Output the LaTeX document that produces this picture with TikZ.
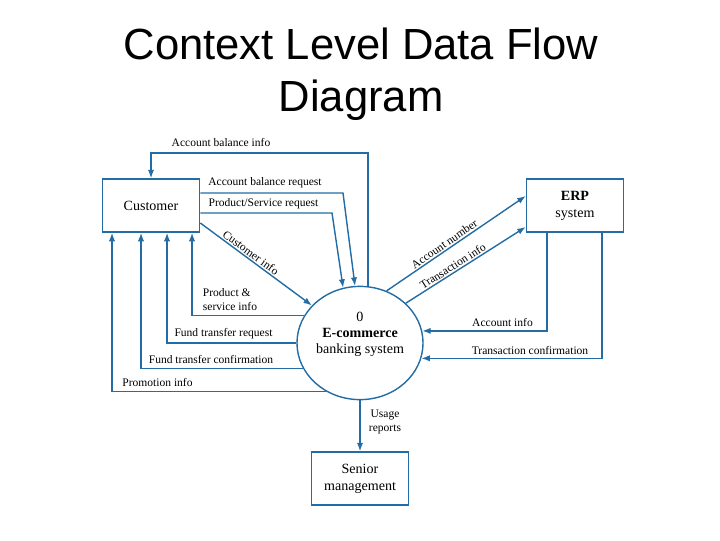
\documentclass[tikz,border=0pt]{standalone}
\usepackage{fontspec}
\setmainfont{Liberation Serif}
\newfontfamily\titlefont{Liberation Sans}
\usetikzlibrary{shapes.geometric,arrows.meta}
\definecolor{dfdblue}{RGB}{36,108,164}

\tikzset{
  entity/.style={draw=dfdblue, line width=1pt, minimum width=2.43cm, minimum height=1.33cm,
    inner sep=2pt, align=center, font=\fontsize{10}{12}\selectfont},
  process/.style={draw=dfdblue, line width=1pt, ellipse, minimum width=3.15cm, minimum height=2.83cm,
    inner sep=0pt, align=center, font=\fontsize{10}{11.5}\selectfont},
  flow/.style={draw=dfdblue, line width=1pt, -{Latex[length=6pt,width=4.5pt]}},
  lbl/.style={font=\fontsize{8.2}{10}\selectfont, inner sep=1pt, align=left},
  titletext/.style={font=\titlefont\fontsize{31}{37}\selectfont, align=center}
}

\begin{document}
\begin{tikzpicture}[x=0.025cm,y=-0.025cm]
\useasboundingbox (0,0) rectangle (720,540);
\node[titletext] (title) at (361,74) {Context Level Data Flow\\Diagram};

\node[entity] (cust) at (151,205.5) {Customer};
\node[entity] (erp) at (575,205.5) {\textbf{ERP}\\system};
\node[process] (sys) at (360,343) {0\\\textbf{E-commerce}\\banking system\\[3pt]\phantom{0}};
\node[entity] (mgmt) at (360,478.5) {Senior\\management};

\coordinate (abi) at (368,153);
\coordinate (abr) at (343,193);
\coordinate (psr) at (332,213);
\coordinate (ci) at (200,223);
\coordinate (psi) at (192,316);
\coordinate (ftr) at (167,343);
\coordinate (ftc) at (141,368);
\coordinate (pri) at (112,391);
\coordinate (an) at (527,196);
\coordinate (ti) at (527,227);
\coordinate (ai) at (547,331);
\coordinate (tc) at (602,358);

\draw[flow] (sys.82) -- (sys.82 |- abi) -| (cust.north);
\draw[flow] (cust.east |- abr) -- (abr) -- (sys.95);
\draw[flow] (cust.east |- psr) -- (psr) -- (sys.107);
\draw[flow] (cust.east |- ci) -- node[lbl,sloped,above,pos=0.42] (cinfo) {Customer info} (sys.142);
\draw[flow] (sys.154) -| (cust.south -| psi);
\draw[flow] (sys.180) -| (cust.south -| ftr);
\draw[flow] (sys.204) -| (cust.south -| ftc);
\draw[flow] (sys.235) -| (cust.south -| pri);

\draw[flow] (sys.63) -- node[lbl,sloped,above,pos=0.44] (anum) {Account number} (erp.west |- an);
\draw[flow] (sys.41) -- node[lbl,sloped,above,pos=0.42] (tinfo) {Transaction info} (erp.west |- ti);
\draw[flow] (erp.south -| ai) |- (sys.11);
\draw[flow] (erp.south -| tc) |- (sys.346);
\draw[flow] (sys.south) -- (mgmt.north);

\node[lbl] (abinfo) at (221,142) {Account balance info};
\node[lbl] (abreq) at (265,183) {Account balance request};
\node[lbl] (psreq) at (263.5,204) {Product/Service request};
\node[lbl] (psinfo) at (230,300) {Product \&\\service info};
\node[lbl] (ftreq) at (223.5,334) {Fund transfer request};
\node[lbl] (ftconf) at (211,359) {Fund transfer confirmation};
\node[lbl] (promo) at (157.5,382) {Promotion info};
\node[lbl] (ainfo) at (502.5,322) {Account info};
\node[lbl] (tconf) at (530,350) {Transaction confirmation};
\node[lbl,align=center] (usage) at (385,422) {Usage\\reports};
\end{tikzpicture}
\end{document}
